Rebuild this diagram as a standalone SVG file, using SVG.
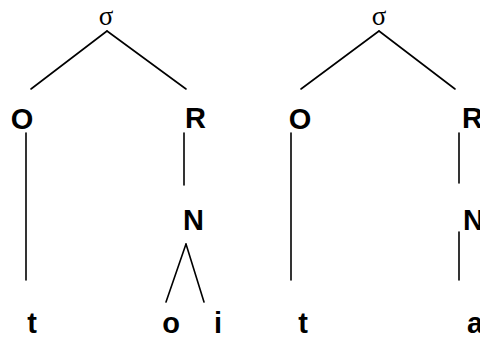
<svg xmlns="http://www.w3.org/2000/svg" width="480" height="338" viewBox="0 0 480 338">
<style>
.l{font-family:"Liberation Sans",Arial,sans-serif;font-weight:bold;font-size:29px;fill:#000}
.s{font-family:"Liberation Serif","Times New Roman",serif;font-size:27px;fill:#000}
.c line{stroke:#000;stroke-width:1.6;stroke-linecap:round}
</style>
<rect width="480" height="338" fill="#fff"/>
<g class="c" id="connectors">
<line x1="107" y1="31" x2="31" y2="89"/>
<line x1="107" y1="31" x2="186" y2="89"/>
<line x1="26" y1="133" x2="26" y2="280"/>
<line x1="184" y1="133" x2="184" y2="185"/>
<line x1="186" y1="244" x2="166" y2="302"/>
<line x1="186" y1="244" x2="204" y2="302"/>
<line x1="379" y1="31" x2="301" y2="89"/>
<line x1="379" y1="31" x2="455" y2="89"/>
<line x1="291" y1="133" x2="291" y2="280"/>
<line x1="459" y1="133" x2="459" y2="183"/>
<line x1="459" y1="232" x2="459" y2="280"/>
</g>
<g id="sigma1"><text class="s" x="106" y="25" text-anchor="middle">σ</text></g>
<g id="O1"><text class="l" x="22" y="129" text-anchor="middle">O</text></g>
<g id="R1"><text class="l" x="185" y="128">R</text></g>
<g id="N1"><text class="l" x="183" y="230">N</text></g>
<g id="t1"><text class="l" x="32" y="333" text-anchor="middle">t</text></g>
<g id="o1"><text class="l" x="171" y="333" text-anchor="middle">o</text></g>
<g id="i1"><text class="l" x="218" y="333" text-anchor="middle">i</text></g>
<g id="sigma2"><text class="s" x="379" y="25" text-anchor="middle">σ</text></g>
<g id="O2"><text class="l" x="300" y="129" text-anchor="middle">O</text></g>
<g id="R2"><text class="l" x="462" y="128">R</text></g>
<g id="N2"><text class="l" x="463" y="230">N</text></g>
<g id="t2"><text class="l" x="303" y="333" text-anchor="middle">t</text></g>
<g id="a2"><text class="l" x="467" y="333">a</text></g>
</svg>
